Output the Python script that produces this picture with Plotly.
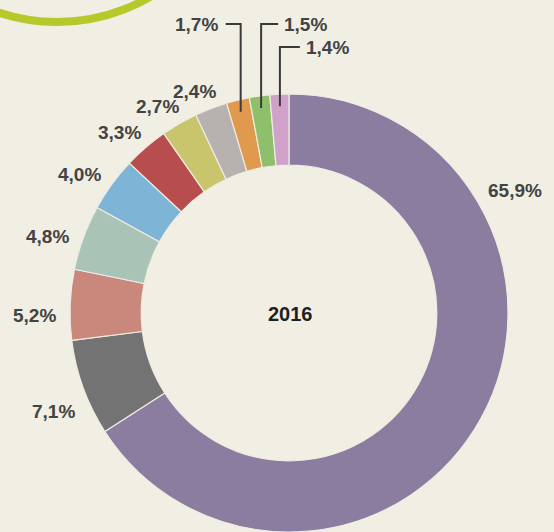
import math
import plotly.graph_objects as go

# ---- data ----
shares = [65.9, 7.1, 5.2, 4.8, 4.0, 3.3, 2.7, 2.4, 1.7, 1.5, 1.4]
share_labels = ["65,9%", "7,1%", "5,2%", "4,8%", "4,0%", "3,3%", "2,7%", "2,4%", "1,7%", "1,5%", "1,4%"]
categories = ["Kategorie %d" % (i + 1) for i in range(len(shares))]
center_label = "2016"

# ---- style ----
colors = ["#8a7d9f", "#737373", "#c9887b", "#a9c4b6", "#7eb4d5", "#b84d4d",
          "#c9c56d", "#b7b2b0", "#e09a4d", "#8ebf6b", "#d0a2c9"]
W, H = 554, 532
BG = "#f1eee4"
CX, CY, R = 289, 313, 219            # pie centre / radius in px
HOLE = 0.675
TXT = "#434343"
FONT = "Liberation Sans, Arial, sans-serif"
FS = 19


def px_x(x):
    return x / W


def px_y(y):
    return 1 - y / H


def polar(angle_deg, r):
    a = math.radians(angle_deg)
    return CX + r * math.sin(a), CY - r * math.cos(a)


fig = go.Figure(go.Pie(
    labels=categories,
    values=shares,
    sort=False,
    direction="clockwise",
    rotation=0,
    hole=HOLE,
    textinfo="none",
    hoverinfo="label+percent",
    marker=dict(colors=colors, line=dict(color="#efece3", width=1.2)),
    domain=dict(x=[px_x(CX - R), px_x(CX + R)], y=[px_y(CY + R), px_y(CY - R)]),
    showlegend=False,
))

total = sum(shares)
starts = []
acc = 0.0
for v in shares:
    starts.append(acc)
    acc += v
mids = [360.0 * (s + v / 2) / total for s, v in zip(starts, shares)]

annotations = []
shapes = []

# regular outside labels
for i, (lab, mid) in enumerate(zip(share_labels, mids)):
    if i >= 8:
        continue
    ang = 61.0 if i == 0 else mid - 2.0
    a = math.radians(ang)
    half_w = 5.4 * len(lab)
    rr = 233 + abs(math.sin(a)) * half_w + abs(math.cos(a)) * 3
    x, y = polar(ang, rr)
    annotations.append(dict(x=px_x(x), y=px_y(y + 3), xref="paper", yref="paper",
                            text="<b>%s</b>" % lab, showarrow=False, xanchor="center", yanchor="middle",
                            font=dict(family=FONT, size=FS, color=TXT)))

# small slices with elbow leader lines
elbow_top = [24, 24, 47]
elbow_len = [-15, 17, 20]
for k, i in enumerate(range(8, 11)):
    xb, yb = polar(mids[i], 207)
    xt, yt = xb, elbow_top[k]
    xe = xt + elbow_len[k]
    shapes.append(dict(type="path", xref="paper", yref="paper",
                       path="M %f,%f L %f,%f L %f,%f" % (px_x(xb), px_y(yb), px_x(xt), px_y(yt), px_x(xe), px_y(yt)),
                       line=dict(color="#3a3a3a", width=2)))
    if elbow_len[k] < 0:
        annotations.append(dict(x=px_x(xe - 6), y=px_y(yt), xref="paper", yref="paper",
                                text="<b>%s</b>" % share_labels[i], showarrow=False,
                                xanchor="right", yanchor="middle",
                                font=dict(family=FONT, size=FS, color=TXT)))
    else:
        annotations.append(dict(x=px_x(xe + 4), y=px_y(yt), xref="paper", yref="paper",
                                text="<b>%s</b>" % share_labels[i], showarrow=False,
                                xanchor="left", yanchor="middle",
                                font=dict(family=FONT, size=FS, color=TXT)))

# centre label
annotations.append(dict(x=px_x(CX + 1), y=px_y(CY + 1), xref="paper", yref="paper",
                        text="<b>%s</b>" % center_label, showarrow=False,
                        font=dict(family=FONT, size=20, color="#1f1f1f")))

# decorative green arc (top-left)
ac_x, ac_y, ac_r = 57, -163, 185
shapes.append(dict(type="circle", xref="paper", yref="paper",
                   x0=px_x(ac_x - ac_r), x1=px_x(ac_x + ac_r),
                   y0=px_y(ac_y + ac_r), y1=px_y(ac_y - ac_r),
                   line=dict(color="#b6c82a", width=8), layer="below"))

fig.update_layout(
    width=W, height=H,
    margin=dict(l=0, r=0, t=0, b=0),
    paper_bgcolor=BG, plot_bgcolor=BG,
    annotations=annotations,
    shapes=shapes,
)

fig.write_html("out.html")
